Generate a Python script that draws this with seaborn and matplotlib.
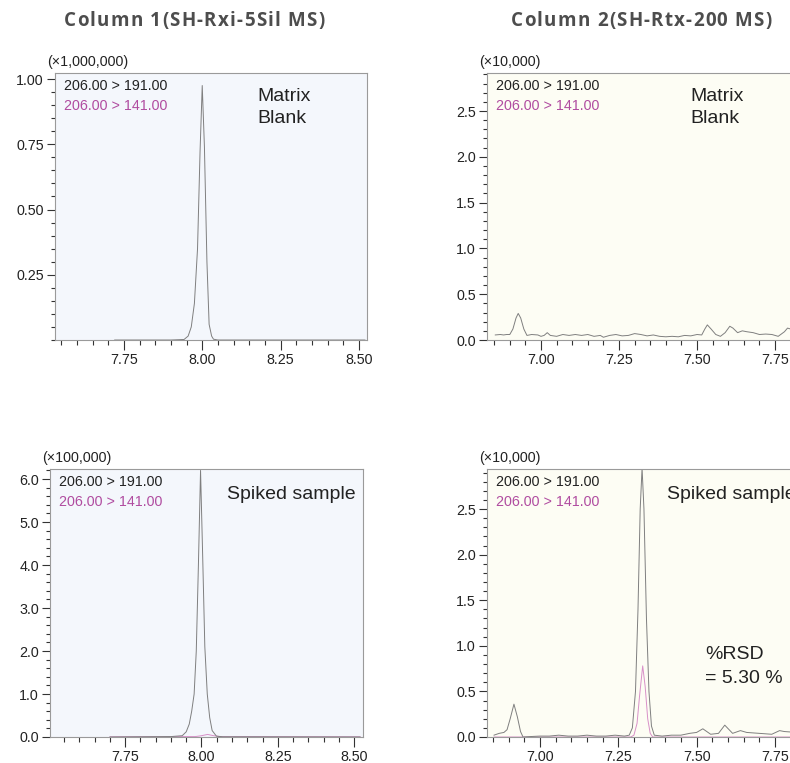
import numpy as np
import pandas as pd
import seaborn as sns
import matplotlib.pyplot as plt
from matplotlib.ticker import MultipleLocator
from matplotlib.font_manager import FontProperties

# Column 1, matrix blank (x1,000,000)
tl_t = [7.72, 7.90, 7.942, 7.955, 7.965, 7.975, 7.985, 7.993, 8.000, 8.007,
        8.015, 8.022, 8.030, 8.036, 8.05, 8.52]
tl_y = [0.0, 0.0, 0.002, 0.015, 0.05, 0.14, 0.35, 0.72, 0.975, 0.74,
        0.30, 0.06, 0.015, 0.003, 0.0, 0.0]
tl_t2 = [7.72, 8.52]
tl_y2 = [0.001, 0.001]

# Column 2, matrix blank (x10,000)
tr_t = [6.853, 6.87, 6.88, 6.89, 6.90, 6.91, 6.92, 6.927, 6.935, 6.945,
        6.955, 6.97, 6.99, 7.00, 7.01, 7.02, 7.03, 7.05, 7.07, 7.09,
        7.11, 7.13, 7.15, 7.17, 7.19, 7.20, 7.22, 7.24, 7.26, 7.28,
        7.30, 7.32, 7.34, 7.36, 7.38, 7.40, 7.42, 7.44, 7.46, 7.48,
        7.50, 7.515, 7.525, 7.533, 7.545, 7.56, 7.575, 7.59, 7.605, 7.615,
        7.63, 7.645, 7.66, 7.68, 7.70, 7.72, 7.74, 7.76, 7.78, 7.79,
        7.80, 7.82, 7.85, 7.89]
tr_y = [0.055, 0.06, 0.055, 0.06, 0.06, 0.12, 0.24, 0.29, 0.24, 0.12,
        0.05, 0.06, 0.055, 0.04, 0.05, 0.08, 0.05, 0.04, 0.06, 0.05,
        0.06, 0.05, 0.06, 0.04, 0.05, 0.03, 0.05, 0.06, 0.045, 0.05,
        0.07, 0.06, 0.045, 0.055, 0.04, 0.035, 0.04, 0.035, 0.05, 0.045,
        0.06, 0.055, 0.12, 0.165, 0.12, 0.06, 0.04, 0.08, 0.15, 0.13,
        0.08, 0.10, 0.09, 0.08, 0.06, 0.065, 0.06, 0.04, 0.09, 0.13,
        0.12, 0.10, 0.08, 0.07]
tr_t2 = [6.853, 7.89]
tr_y2 = [0.003, 0.003]

# Column 1, spiked sample (x100,000)
bl_t = [7.70, 7.90, 7.937, 7.95, 7.96, 7.968, 7.976, 7.983, 7.99, 7.997,
        8.004, 8.011, 8.019, 8.027, 8.035, 8.049, 8.07, 8.52]
bl_y = [0.0, 0.01, 0.03, 0.12, 0.3, 0.6, 1.0, 2.0, 4.0, 6.2,
        4.2, 2.1, 1.0, 0.45, 0.15, 0.02, 0.005, 0.0]
bl_t2 = [7.70, 7.98, 8.00, 8.02, 8.04, 8.06, 8.52]
bl_y2 = [0.005, 0.01, 0.03, 0.06, 0.03, 0.01, 0.005]

# Column 2, spiked sample (x10,000)
br_t = [6.853, 6.87, 6.885, 6.895, 6.905, 6.917, 6.928, 6.938, 6.946, 6.97,
        7.00, 7.03, 7.06, 7.09, 7.12, 7.15, 7.18, 7.21, 7.24, 7.27,
        7.285, 7.295, 7.305, 7.313, 7.32, 7.326, 7.332, 7.34, 7.348, 7.356,
        7.365, 7.39, 7.42, 7.45, 7.478, 7.50, 7.52, 7.545, 7.57, 7.59,
        7.615, 7.64, 7.66, 7.70, 7.74, 7.765, 7.78, 7.82, 7.89]
br_y = [0.02, 0.04, 0.05, 0.08, 0.2, 0.36, 0.22, 0.06, 0.0, 0.005,
        0.01, 0.01, 0.02, 0.01, 0.01, 0.02, 0.01, 0.01, 0.02, 0.01,
        0.02, 0.1, 0.5, 1.4, 2.5, 2.95, 2.5, 1.3, 0.5, 0.12,
        0.02, 0.01, 0.02, 0.02, 0.04, 0.05, 0.09, 0.03, 0.04, 0.13,
        0.04, 0.07, 0.05, 0.04, 0.03, 0.07, 0.06, 0.05, 0.04]
br_t2 = [6.853, 7.29, 7.30, 7.31, 7.318, 7.328, 7.336, 7.344, 7.352, 7.36, 7.89]
br_y2 = [0.0, 0.0, 0.02, 0.15, 0.45, 0.78, 0.55, 0.2, 0.04, 0.0, 0.0]

titles = ["Column 1(SH-Rxi-5Sil MS)", "Column 2(SH-Rtx-200 MS)"]
mrm_labels = ["206.00 > 191.00", "206.00 > 141.00"]

sns.set_style("white")
plt.rcParams['font.family'] = ['Liberation Sans', 'DejaVu Sans']

W, H = 790, 763
fig = plt.figure(figsize=(W / 100, H / 100), dpi=100)


def box(l, t, r, b):
    return [l / W, 1 - b / H, (r - l) / W, (b - t) / H]


panels = [
    dict(pos=box(55, 73, 367, 340), t=tl_t, y=tl_y, t2=tl_t2, y2=tl_y2,
         xlim=(7.530, 8.526), ylim=(0, 1.023), bg='#f4f7fc',
         yticks=[0.25, 0.50, 0.75, 1.00], yfmt='{:.2f}', yminor=0.05,
         xticks=[7.75, 8.00, 8.25, 8.50], mult='(×1,000,000)',
         note='Matrix\nBlank', note_xy=(202, -15)),
    dict(pos=box(487, 73, 820, 340), t=tr_t, y=tr_y, t2=tr_t2, y2=tr_y2,
         xlim=(6.827, 7.894), ylim=(0, 2.915), bg='#fdfdf4',
         yticks=[0.0, 0.5, 1.0, 1.5, 2.0, 2.5], yfmt='{:.1f}', yminor=0.1,
         xticks=[7.00, 7.25, 7.50, 7.75], mult='(×10,000)',
         note='Matrix\nBlank', note_xy=(203, -15)),
    dict(pos=box(50, 469, 363, 737), t=bl_t, y=bl_y, t2=bl_t2, y2=bl_y2,
         xlim=(7.504, 8.529), ylim=(0, 6.233), bg='#f4f7fc',
         yticks=[0.0, 1.0, 2.0, 3.0, 4.0, 5.0, 6.0], yfmt='{:.1f}', yminor=0.2,
         xticks=[7.75, 8.00, 8.25, 8.50], mult='(×100,000)',
         note='Spiked sample', note_xy=(177, -17)),
    dict(pos=box(487, 469, 820, 737), t=br_t, y=br_y, t2=br_t2, y2=br_y2,
         xlim=(6.831, 7.894), ylim=(0, 2.939), bg='#fdfdf4',
         yticks=[0.0, 0.5, 1.0, 1.5, 2.0, 2.5], yfmt='{:.1f}', yminor=0.1,
         xticks=[7.00, 7.25, 7.50, 7.75], mult='(×10,000)',
         note='Spiked sample', note_xy=(180, -17)),
]

for p in panels:
    ax = fig.add_axes(p['pos'])
    ax.set_facecolor(p['bg'])
    sns.lineplot(x=p['t2'], y=p['y2'], ax=ax, color='#d890c8', linewidth=0.7)
    sns.lineplot(x=p['t'], y=p['y'], ax=ax, color='#7f7f7f', linewidth=0.7)
    ax.set_xlim(*p['xlim'])
    ax.set_ylim(*p['ylim'])
    ax.set_xticks(p['xticks'])
    ax.set_xticklabels(['{:.2f}'.format(v) for v in p['xticks']])
    ax.set_yticks(p['yticks'])
    ax.set_yticklabels([p['yfmt'].format(v) for v in p['yticks']])
    ax.xaxis.set_minor_locator(MultipleLocator(0.05))
    ax.yaxis.set_minor_locator(MultipleLocator(p['yminor']))
    for s in ax.spines.values():
        s.set_color('#9a9a9a')
        s.set_linewidth(0.8)
    ax.tick_params(axis='both', which='both', direction='out', color='#333333',
                   width=0.8, labelsize=10.3, labelcolor='#222222')
    ax.tick_params(axis='x', which='major', length=7.5, pad=2, bottom=True)
    ax.tick_params(axis='x', which='minor', length=3.8, bottom=True)
    ax.tick_params(axis='y', which='major', length=6, pad=2, left=True)
    ax.tick_params(axis='y', which='minor', length=3, left=True)
    ax.set_xlabel('')
    ax.set_ylabel('')

    ax.annotate(p['mult'], xy=(0, 1), xycoords='axes fraction',
                xytext=(-8, 4), textcoords='offset pixels',
                ha='left', va='bottom', fontsize=10.3, color='#222222')
    ax.annotate(mrm_labels[0], xy=(0, 1), xycoords='axes fraction',
                xytext=(9, -13), textcoords='offset pixels',
                ha='left', va='center', fontsize=10.3, color='#222222')
    ax.annotate(mrm_labels[1], xy=(0, 1), xycoords='axes fraction',
                xytext=(9, -33), textcoords='offset pixels',
                ha='left', va='center', fontsize=10.3, color='#b04ca0')
    ax.annotate(p['note'], xy=(0, 1), xycoords='axes fraction',
                xytext=p['note_xy'], textcoords='offset pixels',
                ha='left', va='top', fontsize=14, color='#222222',
                linespacing=1.4, annotation_clip=False)

# %RSD note on the spiked Column 2 panel
fig.axes[3].annotate('%RSD\n= 5.30 %', xy=(0, 1), xycoords='axes fraction',
                     xytext=(218, -177), textcoords='offset pixels',
                     ha='left', va='top', fontsize=14, color='#222222',
                     linespacing=1.55)

# column titles, letter-spaced: place each character by hand
renderer = fig.canvas.get_renderer()
fp = FontProperties(family='Open Sans', weight='bold', size=13.5)
target_w = 261
bar_w = renderer.get_text_width_height_descent('|', fp, ismath=False)[0]
for title, cx in zip(titles, [194, 641]):
    natural = renderer.get_text_width_height_descent(title, fp, ismath=False)[0]
    gap = (target_w - natural) / (len(title) - 1)
    x0 = cx - target_w / 2
    for i, ch in enumerate(title):
        pre = 0
        if i:
            pre = renderer.get_text_width_height_descent(title[:i] + '|', fp, ismath=False)[0] - bar_w
        fig.text((x0 + pre + i * gap) / W, 1 - 21 / H, ch, ha='left', va='center',
                 fontproperties=fp, color='#4d4d4d')

plt.savefig("out.png", dpi=100)
